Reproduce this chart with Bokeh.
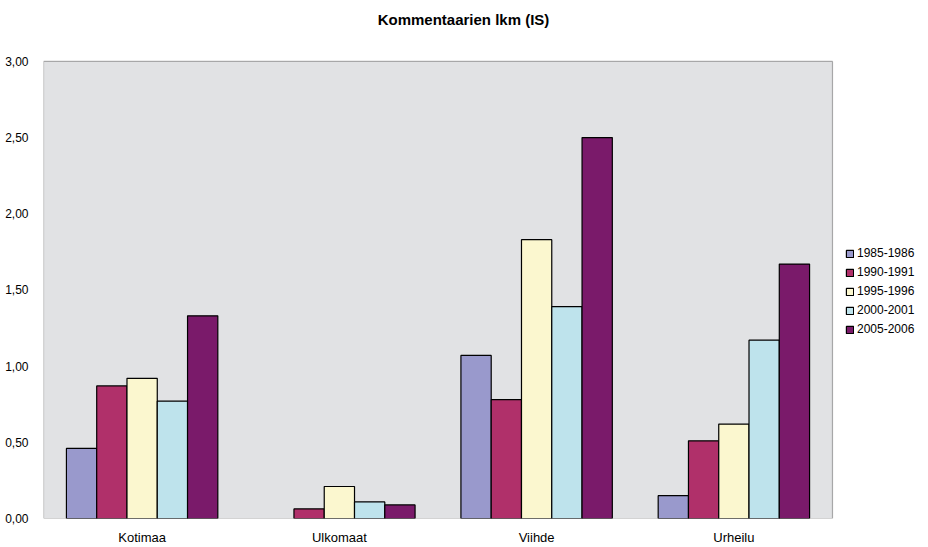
from bokeh.plotting import figure
from bokeh.models import ColumnDataSource, FixedTicker, Legend, LegendItem, Range1d, BoxAnnotation, Label
from bokeh.embed import file_html
from bokeh.resources import INLINE

title_text = "Kommentaarien lkm (IS)"
categories = ["Kotimaa", "Ulkomaat", "Viihde", "Urheilu"]
series_names = ["1985-1986", "1990-1991", "1995-1996", "2000-2001", "2005-2006"]
v1985 = [0.46, float("nan"), 1.07, 0.15]
v1990 = [0.87, 0.063, 0.78, 0.51]
v1995 = [0.92, 0.21, 1.83, 0.62]
v2000 = [0.77, 0.109, 1.39, 1.17]
v2005 = [1.33, 0.089, 2.50, 1.67]
colors = ["#9999CC", "#B0306A", "#FBF7CF", "#BEE3EC", "#7A1A6A"]
y_ticks = [0, 0.5, 1.0, 1.5, 2.0, 2.5, 3.0]
y_tick_labels = ["0,00", "0,50", "1,00", "1,50", "2,00", "2,50", "3,00"]
y_top = 3.0

series = [v1985, v1990, v1995, v2000, v2005]

FONT = "Liberation Sans"
W, H = 928, 547
LEFT, RIGHT_EDGE = 43, 832           # pixel extent of the category area
TOP, BOTTOM = 61, 519                # pixel extent of the value area
n_cat = len(categories)
px_x = (RIGHT_EDGE - LEFT) / n_cat
x_max = n_cat + (W - RIGHT_EDGE) / px_x
px_y = (BOTTOM - TOP) / y_top
y_max = y_top + TOP / px_y

p = figure(width=W, height=H, output_backend="svg", toolbar_location=None,
           title=None,
           x_range=Range1d(0, x_max), y_range=Range1d(0, y_max),
           min_border_left=LEFT, min_border_right=0, min_border_top=0,
           min_border_bottom=H - BOTTOM)
p.background_fill_color = "white"
p.border_fill_color = "white"
p.outline_line_color = None
p.xgrid.visible = False
p.ygrid.visible = False

# plot area (category region) background and frame
p.add_layout(BoxAnnotation(left=0, right=n_cat, bottom=0, top=y_top,
                           fill_color="#E1E2E4", fill_alpha=1,
                           line_color="black", line_width=1.2, level="underlay"))

p.add_layout(Label(x=463 - LEFT, y=BOTTOM - 19.5, x_units="screen", y_units="screen",
                   text=title_text, text_align="center", text_baseline="middle",
                   text_font=FONT, text_font_size="15px", text_font_style="bold",
                   text_color="black"))

bw = 0.1535
centers = [i + 0.5 for i in range(n_cat)]
renderers = []
for k, (name, vals, col) in enumerate(zip(series_names, series, colors)):
    xs = [c + (k - 2) * bw for c in centers]
    src = ColumnDataSource(dict(x=xs, top=vals))
    r = p.vbar(x="x", top="top", bottom=0, width=bw, source=src,
               fill_color=col, line_color="black", line_width=1.2)
    renderers.append(r)

p.xaxis.ticker = FixedTicker(ticks=centers)
p.xaxis.major_label_overrides = {c: n for c, n in zip(centers, categories)}
p.yaxis.ticker = FixedTicker(ticks=y_ticks)
p.yaxis.major_label_overrides = {t: l for t, l in zip(y_ticks, y_tick_labels)}
for ax in (p.xaxis[0], p.yaxis[0]):
    ax.major_tick_line_color = None
    ax.minor_tick_line_color = None
    ax.axis_line_color = None
    ax.major_label_text_font = FONT
    ax.major_label_text_color = "black"
p.xaxis.major_label_text_font_size = "13px"
p.yaxis.major_label_text_font_size = "12px"
p.xaxis.major_label_standoff = 5
p.yaxis.major_label_standoff = 9

legend = Legend(items=[LegendItem(label=n, renderers=[r]) for n, r in zip(series_names, renderers)],
                location=(802, 182))
legend.background_fill_alpha = 0
legend.border_line_color = None
legend.label_text_font = FONT
legend.label_text_font_size = "12px"
legend.label_text_color = "black"
legend.glyph_width = 9
legend.glyph_height = 9
legend.label_height = 12
legend.spacing = 5
legend.label_standoff = 3
legend.padding = 2
legend.margin = 0
p.add_layout(legend, "center")

open("out.html", "w").write(file_html(p, INLINE))
